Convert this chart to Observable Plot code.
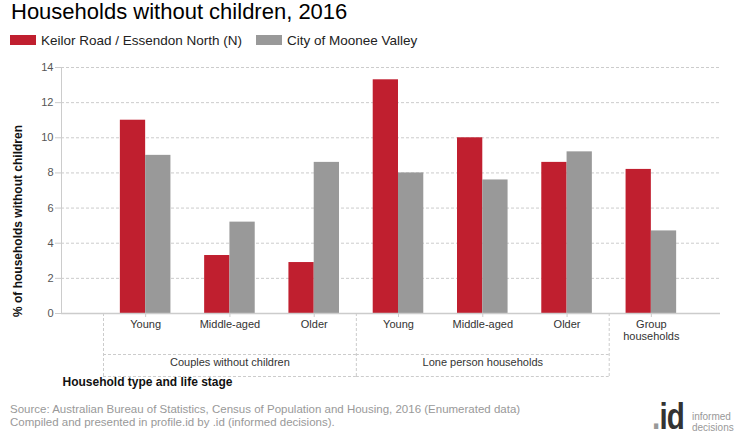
<!DOCTYPE html>
<html>
<head>
<meta charset="utf-8">
<script src="https://cdn.jsdelivr.net/npm/d3@7"></script>
<script src="https://cdn.jsdelivr.net/npm/@observablehq/plot@0.6"></script>
<style>
  body { margin: 0; background: #fff; font-family: "Liberation Sans", Arial, sans-serif; }
  #wrap { position: relative; width: 740px; height: 440px; overflow: hidden; }
  #title { position: absolute; left: 11px; top: 1px; font-size: 22px; line-height: 22px; color: #000; white-space: nowrap; }
  .leg { position: absolute; top: 33px; font-size: 13.5px; line-height: 16px; color: #222; white-space: nowrap; }
  .sw { display: inline-block; width: 26px; height: 10px; margin-right: 5px; vertical-align: 0px; }
  #chart { position: absolute; left: 0; top: 50px; }
  #ytitle { position: absolute; left: 18px; top: 221px; transform: translate(-50%, -50%) rotate(-90deg); font-size: 12px; font-weight: bold; color: #111; white-space: nowrap; }
  #foot { position: absolute; left: 10px; top: 403px; font-size: 11.5px; line-height: 13px; color: #999; white-space: nowrap; }
  #logo { position: absolute; left: 652px; top: 397px; width: 90px; height: 40px; white-space: nowrap; }
  #logo .id { position: absolute; left: 0; top: 0; font-size: 37px; font-weight: bold; color: #333; line-height: 40px; transform: scaleX(0.8); transform-origin: left top; letter-spacing: -1px; }
  #logo .dot { color: #999; }
  #logo .txt { position: absolute; left: 40px; top: 14px; font-size: 10px; line-height: 11px; color: #999; }
</style>
</head>
<body>
<div id="wrap">
  <div id="title">Households without children, 2016</div>
  <div class="leg" id="leg0" style="left:10px"></div>
  <div class="leg" id="leg1" style="left:256px"></div>
  <div id="chart"></div>
  <div id="ytitle"></div>
  <div id="foot">Source: Australian Bureau of Statistics, Census of Population and Housing, 2016 (Enumerated data)<br>Compiled and presented in profile.id by .id (informed decisions).</div>
  <div id="logo"><span class="id"><span class="dot">.</span>id</span><div class="txt">informed<br>decisions</div></div>
</div>
<script>
// ---- data ----
const categories = ["Young", "Middle-aged", "Older", "Young", "Middle-aged", "Older", "Group\nhouseholds"];
const keilorRoad = [11.0, 3.3, 2.9, 13.3, 10.0, 8.6, 8.2];
const mooneeValley = [9.0, 5.2, 8.6, 8.0, 7.6, 9.2, 4.7];
const seriesNames = ["Keilor Road / Essendon North (N)", "City of Moonee Valley"];
const seriesColors = ["#C01F2F", "#999999"];
const groupNames = ["Couples without children", "Lone person households"];
const groupStart = [0, 3];
const groupEnd = [2, 5];
const yTicks = [0, 2, 4, 6, 8, 10, 12, 14];
const yTitle = "% of households without children";
const xTitle = "Household type and life stage";

// legend and axis title
seriesNames.forEach((n, k) => {
  document.getElementById("leg" + k).innerHTML =
    `<span class="sw" style="background:${seriesColors[k]}"></span>${n}`;
});
document.getElementById("ytitle").textContent = yTitle;

const rows = categories.map((c, i) => ({i, cat: c, a: keilorRoad[i], b: mooneeValley[i]}));
const groups = groupNames.map((g, k) => ({name: g, x1: groupStart[k] - 0.5, x2: groupEnd[k] + 0.5, mid: (groupStart[k] + groupEnd[k]) / 2}));
const bounds = [groupStart[0] - 0.5, ...groupEnd.map(e => e + 0.5)];
const half = 0.3;

const dash = "3,2";
const chart = Plot.plot({
  width: 740,
  height: 345,
  marginTop: 17,
  marginBottom: 82,
  marginLeft: 61,
  marginRight: 20,
  style: {fontFamily: "'Liberation Sans', Arial, sans-serif", fontSize: "11px", color: "#333"},
  x: {type: "linear", domain: [-0.5, categories.length - 0.5], insetLeft: 42, insetRight: 27, axis: null},
  y: {domain: [0, 14], axis: null},
  marks: [
    Plot.gridY(yTicks.slice(1), {stroke: "#ccc", strokeOpacity: 1, strokeDasharray: dash}),
    Plot.axisY(yTicks, {tickSize: 6, tickPadding: 2, stroke: "#ccc", fill: "#555", fontSize: 11, label: null}),
    Plot.frame({anchor: "left", stroke: "#ccc"}),
    Plot.rectY(rows, {x1: d => d.i - half, x2: d => d.i, y: "a", fill: seriesColors[0]}),
    Plot.rectY(rows, {x1: d => d.i, x2: d => d.i + half, y: "b", fill: seriesColors[1]}),
    Plot.ruleY([0], {stroke: "#ccc", strokeWidth: 1.5}),
    Plot.ruleX(rows, {x: "i", y1: 0, y2: 0, insetBottom: -4, stroke: "#ccc"}),
    Plot.ruleX(bounds, {x: d => d, y1: 0, y2: 0, insetBottom: -63, stroke: "#ccc", strokeDasharray: dash}),
    Plot.ruleY(groups, {x1: "x1", x2: "x2", y: 0, dy: 41, stroke: "#ccc", strokeDasharray: dash}),
    Plot.ruleY(groups, {x1: "x1", x2: "x2", y: 0, dy: 63, stroke: "#ccc", strokeDasharray: dash}),
    Plot.text(rows, {x: "i", frameAnchor: "bottom", text: "cat", dy: 6, lineAnchor: "top", fontSize: 11, fill: "#333", lineHeight: 1.1}),
    Plot.text(groups, {x: "mid", frameAnchor: "bottom", text: "name", dy: 52, fontSize: 11, fill: "#333"}),
    Plot.text([xTitle], {frameAnchor: "bottom-left", text: d => d, textAnchor: "start", dx: 1, dy: 72, fontWeight: "bold", fontSize: 12, fill: "#111"})
  ]
});
document.getElementById("chart").appendChild(chart);
</script>
</body>
</html>
